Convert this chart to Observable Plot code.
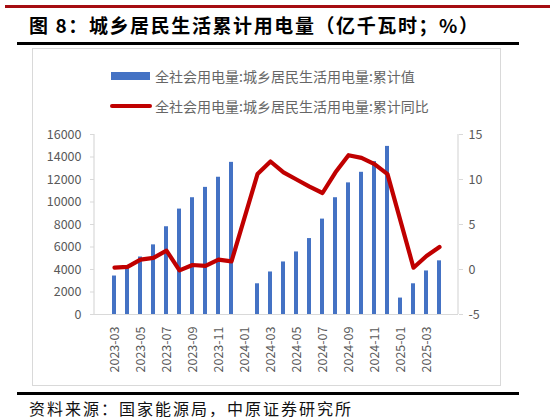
<!DOCTYPE html>
<html>
<head>
<meta charset="utf-8">
<script src="https://cdn.jsdelivr.net/npm/d3@7"></script>
<script src="https://cdn.jsdelivr.net/npm/@observablehq/plot@0.6"></script>
<style>
  body { margin: 0; width: 552px; height: 420px; position: relative; background: #fff; overflow: hidden;
         font-family: "Noto Sans CJK SC", "Noto Sans", sans-serif; }
  .abs { position: absolute; }
  #topline { left: 5px; top: 5px; width: 545px; height: 3px; background: #a50d12; }
  #title { left: 29px; top: 13px; font-size: 19px; line-height: 24px; font-weight: 700; color: #000; white-space: nowrap; letter-spacing: 1.6px; }
  #titleline { left: 17px; top: 42px; width: 502px; height: 3px; background: #000; }
  #box { left: 32px; top: 48px; width: 469px; height: 338px; border: 1px solid #d9d9d9; box-sizing: border-box; }
  .legtext { font-size: 14px; line-height: 18px; color: #666; white-space: nowrap; }
  #bottomline { left: 17px; top: 392px; width: 502px; height: 3px; background: #000; }
  #source { left: 29px; top: 400px; font-size: 16px; line-height: 16px; color: #111; white-space: nowrap; letter-spacing: 2px; }
  #chart { left: 0; top: 0; }
</style>
</head>
<body>
<div class="abs" id="topline"></div>
<div class="abs" id="title">图 8：城乡居民生活累计用电量（亿千瓦时；%）</div>
<div class="abs" id="titleline"></div>
<div class="abs" id="box"></div>
<div class="abs" style="left:111px;top:72px;width:39px;height:8px;background:#4472C4"></div>
<div class="abs legtext" style="left:155px;top:67px">全社会用电量:城乡居民生活用电量:累计值</div>
<div class="abs" style="left:110px;top:104px;width:42px;height:4px;border-radius:2px;background:#C00000"></div>
<div class="abs legtext" style="left:155px;top:97px">全社会用电量:城乡居民生活用电量:累计同比</div>
<div class="abs" id="chart"></div>
<div class="abs" id="bottomline"></div>
<div class="abs" id="source">资料来源：国家能源局，中原证券研究所</div>
<script>
// months, 2023-03 .. 2025-04
const months = [
  "2023-03","2023-04","2023-05","2023-06","2023-07","2023-08","2023-09","2023-10","2023-11","2023-12",
  "2024-01","2024-02","2024-03","2024-04","2024-05","2024-06","2024-07","2024-08","2024-09","2024-10","2024-11","2024-12",
  "2025-01","2025-02","2025-03","2025-04"
];
// 累计值 (亿千瓦时)
const cumValue = [
  3420, 4300, 5110, 6190, 7800, 9370, 10380, 11300, 12200, 13524,
  null, 2730, 3780, 4670, 5560, 6750, 8480, 10380, 11700, 12640, 13590, 14942,
  1460, 2730, 3870, 4770
];
// 累计同比 (%)
const yoy = [
  0.2, 0.3, 1.1, 1.3, 2.1, -0.1, 0.5, 0.4, 1.1, 0.9,
  null, 10.6, 12.0, 10.8, 10.0, 9.2, 8.5, 10.8, 12.7, 12.4, 11.7, 10.6,
  null, 0.2, 1.5, 2.5
];
const leftTicks = [0, 2000, 4000, 6000, 8000, 10000, 12000, 14000, 16000];
const rightTicks = [-5, 0, 5, 10, 15];

// right axis (-5..15) onto the left scale (0..16000)
const toLeft = v => (v + 5) * 800;

const bars = months.map((m, i) => ({month: m, value: cumValue[i]})).filter(d => d.value != null);
const line = months.map((m, i) => ({month: m, yoy: yoy[i]})).filter(d => d.yoy != null);

const axisFont = "Noto Sans CJK SC, Noto Sans, sans-serif";

const chart = Plot.plot({
  width: 552,
  height: 420,
  marginLeft: 94,
  marginRight: 94,
  marginTop: 134,
  marginBottom: 106,
  style: {background: "transparent", fontFamily: axisFont, fontSize: "12px", color: "#595959"},
  x: {domain: months, range: [97, 456], paddingInner: 0.67, paddingOuter: 0.335, label: null},
  y: {domain: [0, 16000], label: null},
  marks: [
    Plot.ruleY([0], {stroke: "#d9d9d9", strokeWidth: 1.2}),
    Plot.barY(bars, {x: "month", y: "value", fill: "#4472C4"}),
    Plot.line(line, {x: "month", y: d => toLeft(d.yoy), stroke: "#C00000", strokeWidth: 4.2,
      strokeLinejoin: "round", strokeLinecap: "round"}),
    Plot.axisY({anchor: "left", ticks: leftTicks, tickFormat: d => String(d), tickSize: 4, tickPadding: 9,
      stroke: "#d9d9d9", fontSize: 12.5, label: null}),
    Plot.axisY({anchor: "right", ticks: rightTicks.map(toLeft), tickFormat: d => String(d / 800 - 5),
      tickSize: 4, tickPadding: 6, stroke: "#d9d9d9", fontSize: 12.5, label: null}),
    Plot.axisX({ticks: months.filter((d, i) => i % 2 === 0), tickRotate: -90, tickSize: 0,
      tickPadding: 12, fontSize: 12.5, label: null})
  ]
});

document.querySelector("#chart").append(chart);

// vertical axis lines
const svg = d3.select(chart);
[94, 458].forEach(x => {
  svg.append("line")
    .attr("x1", x).attr("x2", x).attr("y1", 134).attr("y2", 314)
    .attr("stroke", "#d9d9d9").attr("stroke-width", 1.2);
});
</script>
</body>
</html>
